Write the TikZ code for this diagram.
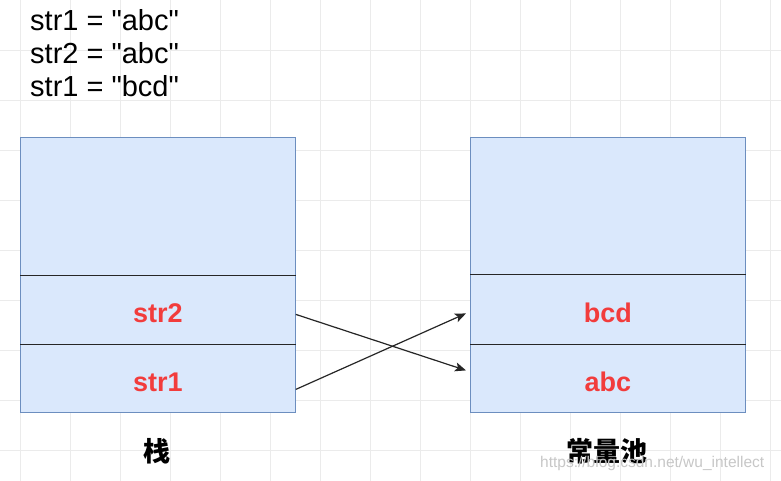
\documentclass[tikz,border=0pt]{standalone}
\usepackage{fontspec}
\setmainfont{Liberation Sans}
\newfontfamily\cjk{Noto Sans CJK SC}
\usetikzlibrary{arrows.meta}

\definecolor{cellFill}{HTML}{DAE8FC}
\definecolor{cellLine}{HTML}{6C8EBF}
\definecolor{nameRed}{HTML}{F23C3C}
\definecolor{gridGray}{HTML}{EBEBEB}

\newcommand{\qt}{\textquotedbl}

\begin{document}
\begin{tikzpicture}[x=1pt, y=-1pt,
    cell/.style={draw=cellLine, line width=0.8pt, fill=cellFill, minimum width=275pt,
                 inner sep=0pt, anchor=north west, text=nameRed,
                 text height=26pt, text depth=0pt,
                 font=\fontsize{27}{30}\selectfont\bfseries},
    divider/.style={line width=1pt, black!85},
    ptr/.style={line width=1.2pt, black!85, -{Stealth[length=11pt, width=9pt, inset=2.5pt]}},
    code/.style={anchor=base west, inner sep=0pt, font=\fontsize{29}{33}\selectfont},
    caption/.style={font=\cjk\bfseries\fontsize{27}{30}\selectfont}]

    \fill[white] (0,0) rectangle (781,481);
    \useasboundingbox (0,0) rectangle (781,481);

    % background grid
    \foreach \x in {20,70,...,770} {
        \draw[gridGray] (\x,0) -- (\x,481);
    }
    \foreach \y in {50,100,...,450} {
        \draw[gridGray] (0,\y) -- (781,\y);
    }

    \node[code] (codeA) at (30,31) {str1 = \qt abc\qt};
    \node[code] (codeB) at (30,64) {str2 = \qt abc\qt};
    \node[code] (codeC) at (30,97) {str1 = \qt bcd\qt};

    % stack
    \node[cell, minimum height=138pt] (stackTop) at (20,137) {};
    \node[cell, minimum height=69pt] (stackStrTwo) at (20,275) {str2};
    \node[cell, minimum height=68pt] (stackStrOne) at (20,344) {str1};

    % constant pool
    \node[cell, minimum height=137pt] (poolTop) at (470,137) {};
    \node[cell, minimum height=70pt] (poolBcd) at (470,274) {bcd};
    \node[cell, minimum height=68pt] (poolAbc) at (470,344) {abc};

    \draw[divider] (stackStrTwo.north west) -- (stackStrTwo.north east);
    \draw[divider] (stackStrOne.north west) -- (stackStrOne.north east);
    \draw[divider] (poolBcd.north west) -- (poolBcd.north east);
    \draw[divider] (poolAbc.north west) -- (poolAbc.north east);

    \draw[ptr] ([yshift=-4.5pt]stackStrTwo.east) -- ([xshift=-4pt, yshift=8pt]poolAbc.west);
    \draw[ptr] ([yshift=-11pt]stackStrOne.east) -- ([xshift=-4pt, yshift=-4pt]poolBcd.west);

    \node[caption] (stackName) at (157,451) {栈};
    \node[caption] (poolName) at (607,451) {常量池};

    \node[anchor=base west, inner sep=0pt, text=black!22, font=\fontsize{15.5}{18}\selectfont]
        (watermark) at (540,467) {https://blog.csdn.net/wu\_intellect};

\end{tikzpicture}
\end{document}
